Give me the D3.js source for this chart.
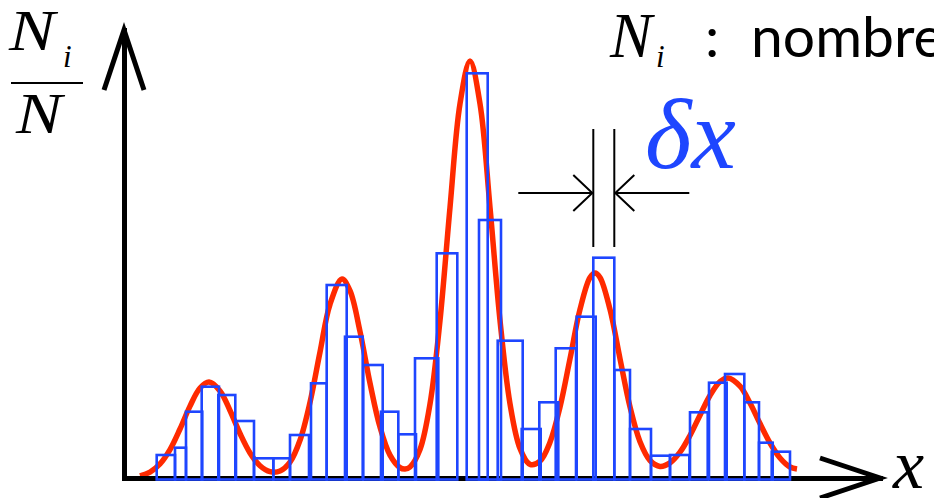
<!DOCTYPE html>
<html><head><meta charset="utf-8">
<script src="https://cdn.jsdelivr.net/npm/d3@7"></script>
<style>html,body{margin:0;padding:0;background:#fff;overflow:hidden}</style>
</head><body>
<svg id="c" width="934" height="498"></svg>
<script>
// Histogram bins (x units) and heights (N_i/N, arbitrary units)
const binStart = [3.27,5.1,6.2,7.77,9.43,11.2,13.0,14.93,16.6,18.7,20.27,22.1,23.93,25.7,27.43,29.1,31.27,34.27,35.5,37.37,39.77,41.53,43.17,45.27,46.93,49.03,50.6,52.7,54.6,56.6,58.5,60.1,62.03,63.5,64.77];
const binEnd   = [5.1,6.2,7.83,9.5,11.13,13.0,14.93,16.6,18.5,20.27,22.27,23.87,25.87,27.43,29.2,31.43,33.33,36.37,37.7,39.87,41.67,43.43,45.2,47.17,49.03,50.6,52.7,54.6,56.53,58.37,60.27,62.03,63.5,64.87,66.6];
const binHeight= [2.3,3.03,6.63,9.13,8.3,5.7,1.97,1.97,4.3,9.47,19.3,14.13,11.3,6.63,4.37,11.97,22.47,40.47,25.8,13.73,4.9,7.57,12.97,16.13,22.03,10.8,4.9,2.23,2.3,6.57,9.53,10.4,7.57,3.53,2.63];

// Smooth density curve
const curveX = [1.6,2.6,3.6,4.6,5.6,6.6,7.6,8.5,9.6,10.6,11.6,12.6,13.6,14.6,15.6,16.6,17.6,18.6,19.6,20.6,21.8,22.6,23.6,24.6,25.6,26.6,27.6,28.1,28.6,29.6,30.6,31.6,32.6,33.6,34.6,35.6,36.6,37.6,38.6,39.6,40.6,41.6,42.6,43.6,44.6,45.6,46.6,47.1,47.6,48.6,49.6,50.6,51.6,52.6,53.6,54.6,55.6,56.6,57.6,58.6,59.6,60.4,61.6,62.6,63.6,64.6,65.6,66.6,67.3];
const curveY = [0.21,0.59,1.41,2.84,4.90,7.19,9.00,9.60,8.71,6.75,4.45,2.51,1.23,0.64,0.70,1.59,3.77,7.56,12.59,17.37,19.90,18.73,14.65,9.49,5.09,2.29,1.04,0.90,1.10,2.85,7.40,15.75,27.06,37.43,41.70,37.43,27.06,15.76,7.43,2.95,1.37,1.69,3.57,7.09,11.92,16.86,20.06,20.50,20.06,16.86,11.93,7.11,3.63,1.75,1.16,1.51,2.58,4.25,6.28,8.25,9.63,10.00,9.18,7.50,5.44,3.50,2.00,1.10,0.90];

const markedBin = 24; // bin annotated with delta x

const xMax = 75.6, yMax = 44.8;
const svg = d3.select("#c");
const x = d3.scaleLinear().domain([0, xMax]).range([124, 880]);
const y = d3.scaleLinear().domain([0, yMax]).range([478, 30]);

const BLUE = "#1e46ff", RED = "#ff2a00";
const MATH = "Liberation Serif";
const SANS = "Lato";

// curve
const pts = curveX.map((v, i) => [v, curveY[i]]);
svg.append("path")
  .attr("d", d3.line().x(d => x(d[0])).y(d => y(d[1])).curve(d3.curveCatmullRom.alpha(0.5))(pts))
  .attr("fill", "none").attr("stroke", RED).attr("stroke-width", 5.5);

// axes
svg.append("g").attr("transform", `translate(0,${y(0)})`)
  .call(d3.axisBottom(x).tickValues([]).tickSizeOuter(0));
svg.append("g").attr("transform", `translate(${x(0)},0)`)
  .call(d3.axisLeft(y).tickValues([]).tickSizeOuter(0));
svg.selectAll(".domain").attr("stroke", "#000").attr("stroke-width", 5).attr("stroke-linecap", "square");

// arrowheads
const tipX = [x(xMax), y(0)], tipY = [x(0), y(yMax)];
svg.append("path").attr("d", `M${tipX[0]-60},${tipX[1]-20}L${tipX[0]},${tipX[1]}L${tipX[0]-60},${tipX[1]+20}`)
  .attr("fill", "none").attr("stroke", "#000").attr("stroke-width", 5);
svg.append("path").attr("d", `M${tipY[0]-20},${tipY[1]+60}L${tipY[0]},${tipY[1]}L${tipY[0]+20},${tipY[1]+60}`)
  .attr("fill", "none").attr("stroke", "#000").attr("stroke-width", 5);

// bars
svg.append("g").selectAll("rect").data(binHeight).join("rect")
  .attr("x", (d, i) => x(binStart[i]))
  .attr("width", (d, i) => x(binEnd[i]) - x(binStart[i]))
  .attr("y", d => y(d))
  .attr("height", d => y(-0.15) - y(d))
  .attr("fill", "none").attr("stroke", BLUE).attr("stroke-width", 2.6);

// delta x annotation
const xa = x(binStart[markedBin]), xb = x(binEnd[markedBin]);
const ay = 193;
const ann = svg.append("g").attr("stroke", "#000").attr("stroke-width", 2).attr("fill", "none");
ann.append("line").attr("x1", xa).attr("x2", xa).attr("y1", 129).attr("y2", 247);
ann.append("line").attr("x1", xb).attr("x2", xb).attr("y1", 129).attr("y2", 247);
ann.append("line").attr("x1", xa - 75).attr("x2", xa - 1).attr("y1", ay).attr("y2", ay);
ann.append("line").attr("x1", xb + 1).attr("x2", xb + 75).attr("y1", ay).attr("y2", ay);
ann.append("path").attr("d", `M${xa-20},${ay-18}L${xa-1},${ay}L${xa-20},${ay+18}`);
ann.append("path").attr("d", `M${xb+20},${ay-18}L${xb+1},${ay}L${xb+20},${ay+18}`);

function mtext(px, py, size, str, len, color) {
  const t = svg.append("text").attr("x", px).attr("y", py)
    .attr("font-family", MATH).attr("font-style", "italic")
    .attr("font-size", size).attr("fill", color || "#000").text(str);
  if (len) t.attr("textLength", len).attr("lengthAdjust", "spacingAndGlyphs");
  return t;
}

mtext(645, 168, 100, "δx", null, BLUE);

// x label
mtext(893, 488, 70, "x");

// y label: N_i / N
mtext(9, 50, 56, "N", 46);
mtext(63, 67, 31, "i");
svg.append("line").attr("x1", 11).attr("x2", 83).attr("y1", 83).attr("y2", 83).attr("stroke", "#000").attr("stroke-width", 2);
mtext(16, 133, 56, "N", 46);

// top-right legend text
mtext(610, 57, 63, "N");
mtext(656, 67, 31, "i");
svg.append("text").attr("x", 705).attr("y", 57).attr("font-family", SANS).attr("font-size", 57).text(":");
svg.append("text").attr("x", 751).attr("y", 57).attr("font-family", SANS).attr("font-size", 57).text("nombre");
</script>
</body></html>
